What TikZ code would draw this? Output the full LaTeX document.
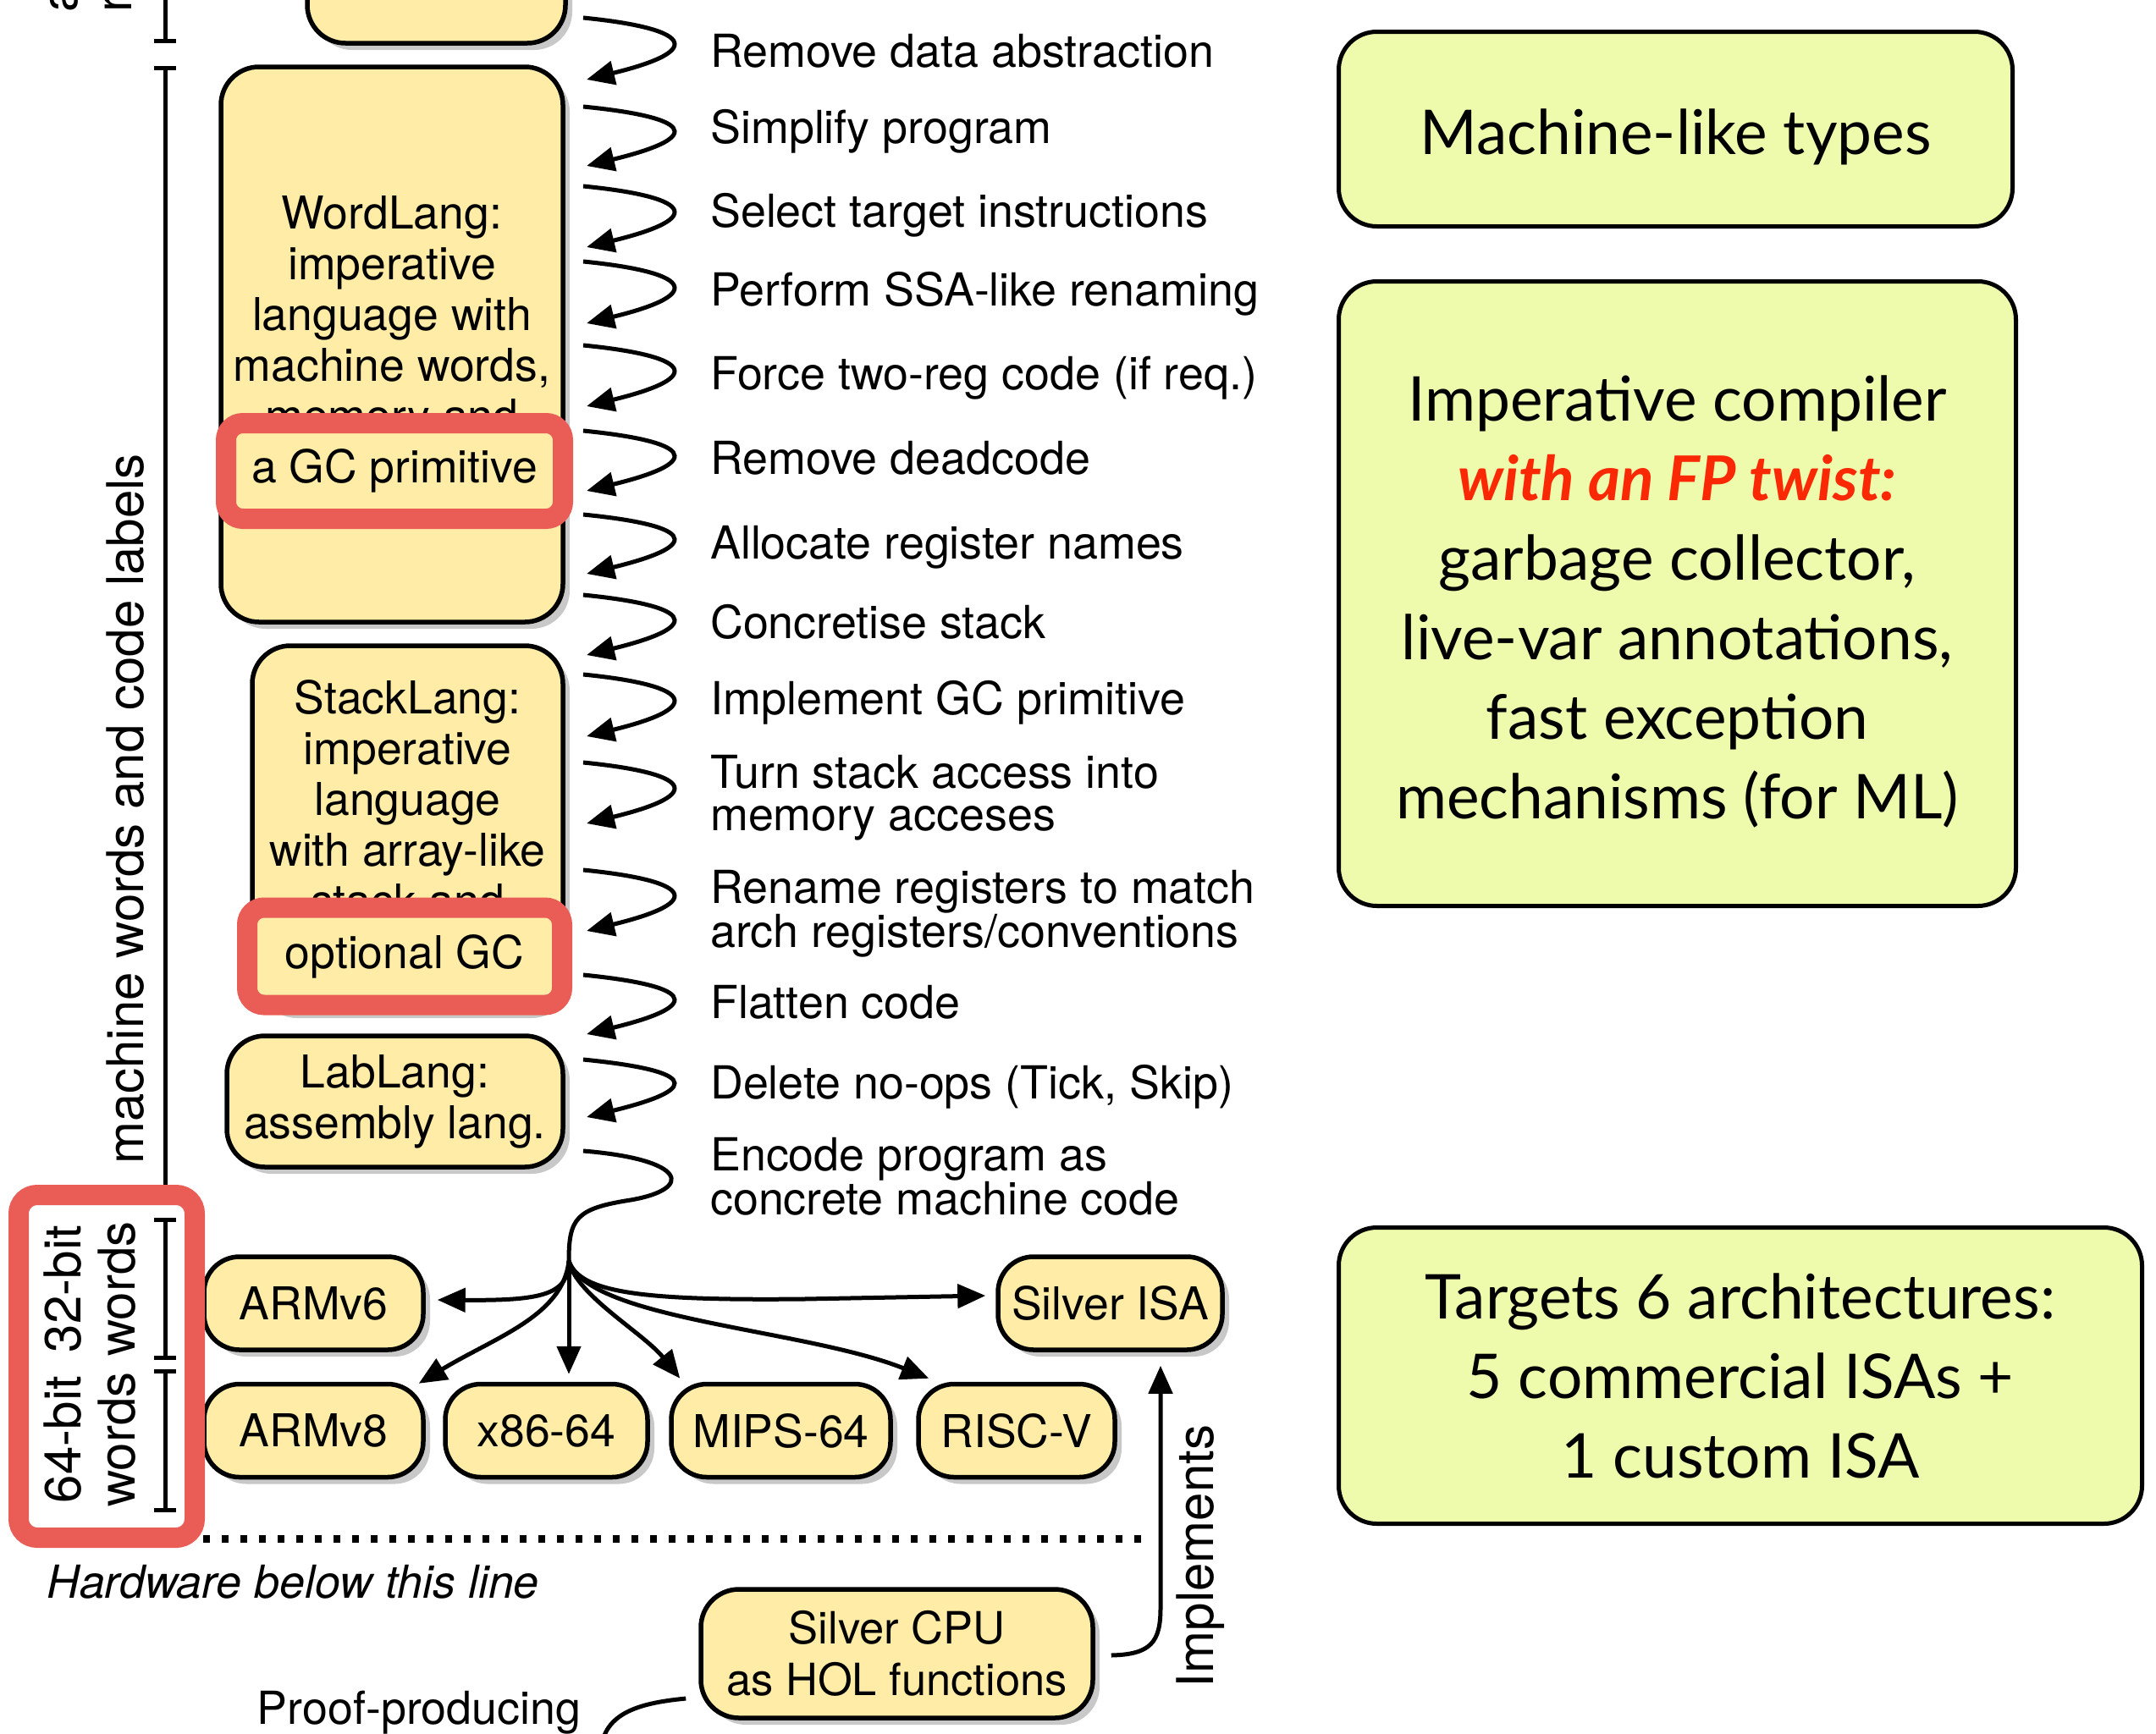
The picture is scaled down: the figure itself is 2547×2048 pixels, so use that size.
\documentclass[tikz,border=0pt]{standalone}
\usepackage{fontspec}
\setmainfont{TeX Gyre Heros}
\newfontfamily\gillfont{Lato}
\usetikzlibrary{arrows.meta,shadows,calc}

\definecolor{boxyellow}{RGB}{255,236,166}
\definecolor{boxgreen}{RGB}{238,251,172}
\definecolor{hilite}{RGB}{233,93,86}
\definecolor{shadowgrey}{RGB}{200,200,200}
\definecolor{twistred}{RGB}{250,40,5}
\newcommand{\vlift}{\rule{0pt}{72pt}}

\begin{document}
\begin{tikzpicture}[x=1pt,y=-1pt,
  flow/.style={line width=5pt},
  arrowed/.style={-{Triangle[length=33pt,width=28pt]}},
  lang/.style={draw=black, line width=5.5pt, fill=boxyellow, rounded corners=45pt,
    inner sep=0pt, align=center, font={\fontsize{53.5}{60}\selectfont},
    drop shadow={shadow xshift=8pt, shadow yshift=-8pt, fill=shadowgrey, opacity=1}},
  arch/.style={lang, rounded corners=42pt, minimum height=110pt},
  hl/.style={draw=hilite, line width=24pt, fill=boxyellow, rounded corners=20pt,
    inner sep=0pt, font={\fontsize{53.5}{60}\selectfont}},
  note/.style={draw=black, line width=5pt, fill=boxgreen, rounded corners=45pt,
    inner sep=0pt, align=center, font={\gillfont\fontsize{73}{94}\selectfont}},
  lbl/.style={inner sep=0pt, align=left, font={\fontsize{53.8}{50}\selectfont}},
  side/.style={inner sep=0pt, rotate=90, align=center, font={\fontsize{60}{64}\selectfont}},
  bracket/.style={line width=5pt}
]
\useasboundingbox (0,0) rectangle (2547,2048);
\clip (0,0) rectangle (2547,2048);

% intermediate languages of the compiler backend
\node[lang, minimum width=305pt, minimum height=448pt] (datalang) at (515.5,-173) {};
\node[lang, minimum width=404pt, minimum height=656pt] (wordlang) at (463,407)
  {WordLang:\\imperative\\language with\\machine words,\\memory and\\\vphantom{a GC primitive}};
\node[lang, minimum width=367pt, minimum height=432pt] (stacklang) at (481.5,979)
  {\fontsize{53.5}{61}\selectfont StackLang:\\imperative\\language\\with array-like\\stack and\\\vphantom{optional GC}};
\node[lang, minimum width=397pt, minimum height=155pt] (lablang) at (466.5,1301.5)
  {LabLang:\\assembly lang.};

% highlighted features
\node[hl, minimum width=398pt, minimum height=113pt] (gcprim) at (466,556.5) {a GC primitive};
\node[hl, minimum width=372pt, minimum height=115pt] (optgc) at (478,1130) {optional GC};

% value-representation brackets on the left
\draw[bracket] (195,-60) -- (195,48) (182,48) -- (208,48);
\draw[bracket] (182,80) -- (208,80) (195,80) -- (195,1420) (182,1420) -- (208,1420);
\node[side, align=left, anchor=west] (absval) at (108,15)
  {abstract values incl.\\ref and code pointers};
\node[side] (mwlabel) at (148,956) {machine words and code labels};

% target architectures
\node[arch, minimum width=259pt] (armsix) at (370.5,1540) {ARMv6};
\node[arch, minimum width=259pt] (armeight) at (370.5,1690.5) {ARMv8};
\node[arch, minimum width=239pt] (x86) at (645.5,1690.5) {x86-64};
\node[arch, minimum width=259pt] (mips) at (922.5,1690.5) {MIPS-64};
\node[arch, minimum width=232pt] (riscv) at (1201,1690.5) {RISC-V};
\node[arch, minimum width=265pt] (isa) at (1311.5,1540) {Silver ISA};

% word-size box
\node[draw=hilite, line width=24pt, fill=white, rounded corners=22pt,
  minimum width=208pt, minimum height=405pt, inner sep=0pt] (wordsize) at (126,1614.5) {};
\draw[bracket] (182,1441) -- (208,1441) (195,1441) -- (195,1604) (182,1604) -- (208,1604);
\draw[bracket] (182,1620) -- (208,1620) (195,1620) -- (195,1784) (182,1784) -- (208,1784);
\node[side] (w32) at (106,1523) {32-bit\\words};
\node[side] (w64) at (106,1701) {64-bit\\words};

% hardware boundary
\draw[line width=9pt, dash pattern=on 8pt off 14pt] (240,1818) -- (1350,1818);
\node[lbl, anchor=base west, font={\fontsize{53.8}{50}\selectfont\itshape}] (hw) at (55,1888)
  {Hardware below this line};

% compiler passes
\foreach \i/\a/\b in {1/21/94, 2/126/196, 3/220/292, 4/309/382, 5/408/480,
    6/509/580, 7/608/678, 8/703/774, 9/797/870, 10/901/973, 11/1028/1100,
    12/1152/1222, 13/1252/1320}{
  \coordinate (from\i) at (689,\a);
  \coordinate (to\i) at (693,\b);
  \draw[flow, arrowed] (from\i) .. controls ($(from\i)+(121,12)$) and ($(to\i)+(147,-36)$) .. (to\i);
}
\node[lbl, anchor=base west] (p1) at (839,79) {Remove data abstraction};
\node[lbl, anchor=base west] (p2) at (839,169) {Simplify program};
\node[lbl, anchor=base west] (p3) at (839,268) {Select target instructions};
\node[lbl, anchor=base west] (p4) at (839,361) {Perform SSA-like renaming};
\node[lbl, anchor=base west] (p5) at (839,460) {Force two-reg code (if req.)};
\node[lbl, anchor=base west] (p6) at (839,560) {Remove deadcode};
\node[lbl, anchor=base west] (p7) at (839,660) {Allocate register names};
\node[lbl, anchor=base west] (p8) at (839,754) {Concretise stack};
\node[lbl, anchor=base west] (p9) at (839,844) {Implement GC primitive};
\node[lbl, anchor=north west] (p10) at (839,892) {Turn stack access into\\memory acceses};
\node[lbl, anchor=north west] (p11) at (839,1028) {Rename registers to match\\arch registers/conventions};
\node[lbl, anchor=base west] (p12) at (839,1203) {Flatten code};
\node[lbl, anchor=base west] (p13) at (839,1298) {Delete no-ops (Tick, Skip)};
\node[lbl, anchor=north west] (p14) at (839,1344) {Encode program as\\concrete machine code};

% code emission fanning out to the targets
\coordinate (from14) at (689,1360);
\coordinate (fork) at (672,1490);
\draw[flow] (from14) .. controls (812,1370) and (820,1405) .. (745,1418)
  .. controls (680,1428) and (672,1440) .. (fork);
\draw[flow, arrowed] (fork) .. controls (672,1530) and (640,1537) .. ($(armsix.east)+(14,-4)$);
\draw[flow, arrowed] (fork) .. controls (665,1555) and (585,1580) .. ($(armeight.north east)+(-8,2)$);
\draw[flow, arrowed] (fork) -- ($(fork |- x86.north)+(0,-9)$);
\draw[flow, arrowed] (fork) .. controls (680,1530) and (760,1575) .. ($(mips.north west)+(13,-4)$);
\draw[flow, arrowed] (fork) .. controls (695,1560) and (950,1570) .. ($(riscv.north west)+(15,-4)$);
\draw[flow, arrowed] (fork) .. controls (685,1528) and (760,1537) .. (950,1535) -- ($(isa.west)+(-12,-9)$);

% hardware side
\node[lang, minimum width=463pt, minimum height=152pt, font={\fontsize{52.5}{61}\selectfont}] (cpu)
  at (1059.5,1954) {Silver CPU\\as HOL functions};
\draw[flow, arrowed] ($(cpu.east)+(19,2)$) .. controls (1360,1955) and (1371,1940) .. (1371,1900)
  -- ($(isa.south)+(59.5,16)$);
\node[side] (implabel) at (1418,1839) {Implements};
\coordinate (verilogend) at (710,2070);
\draw[flow] ($(cpu.west)+(-15,53)$) .. controls (760,2012) and (712,2022) .. (verilogend);
\node[lbl, align=center, anchor=north] (verilog) at (495,1998) {Proof-producing\\Verilog generation};

% summary notes
\node[note, minimum width=796pt, minimum height=230pt] (types) at (1979.5,152.5)
  {\vlift Machine-like types};
\node[note, minimum width=800pt, minimum height=738pt] (twist) at (1981.5,701.5)
  {\vlift Imperative compiler\\{\color{twistred}\bfseries\itshape with an FP twist:}\\garbage collector,\\live-var annotations,\\fast exception\\mechanisms (for ML)};
\node[note, minimum width=949pt, minimum height=350pt] (targets) at (2056,1625.5)
  {Targets 6 architectures:\\5 commercial ISAs +\\1 custom ISA};
\end{tikzpicture}
\end{document}
